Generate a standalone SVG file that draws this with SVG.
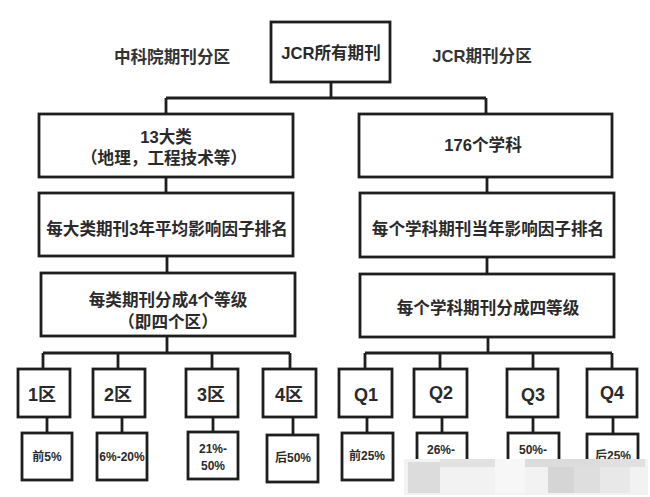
<svg xmlns="http://www.w3.org/2000/svg" width="650" height="497" viewBox="0 0 650 497">
<style>
.b{fill:#fff;stroke:#1e1e1e;stroke-width:2.8}
.c{fill:none;stroke:#1e1e1e;stroke-width:2.8}
text{font-family:"Liberation Sans","Noto Sans CJK SC",sans-serif;font-weight:bold;fill:#2a2a2a;text-anchor:middle;dominant-baseline:central}
.t{font-size:16.6px}
.h{font-size:16.6px;fill:#333}
.q{font-size:18px}
.p{font-size:12px}
</style>
<rect width="650" height="497" fill="#fff"/>
<g id="connectors">
<path class="c" d="M331 82V98M166 98H486M166 98V114M486 98V114"/>
<path class="c" d="M166 177V193M487 177V193M167 256V273M487 257V274"/>
<path class="c" d="M167 336V353M43 353H290M43 353V369M118 353V369M212 353V369M290 353V369"/>
<path class="c" d="M488 337V353M365 353H612M365 353V369M440 353V369M533 353V369M612 353V369"/>
<path class="c" d="M47 417V433M122 417V433M213 417V432M293 417V435"/>
<path class="c" d="M367 417V433M442 417V433M533 417V433M613 417V434"/>
</g>
<text class="h" x="172" y="57">中科院期刊分区</text>
<text class="h" x="482" y="56">JCR期刊分区</text>
<g id="root"><rect class="b" x="271" y="22" width="119" height="60"/><text class="t" x="331" y="53">JCR所有期刊</text></g>
<g id="l1"><rect class="b" x="39" y="114" width="254" height="63"/><text class="t" x="166" y="137">13大类</text><text class="t" x="164" y="158">（地理，工程技术等）</text></g>
<g id="r1"><rect class="b" x="359" y="114" width="253" height="63"/><text class="t" x="483" y="145">176个学科</text></g>
<g id="l2"><rect class="b" x="39" y="193" width="254" height="63"/><text class="t" x="167" y="229">每大类期刊3年平均影响因子排名</text></g>
<g id="r2"><rect class="b" x="360" y="193" width="254" height="64"/><text class="t" x="488" y="229">每个学科期刊当年影响因子排名</text></g>
<g id="l3"><rect class="b" x="41" y="273" width="254" height="63"/><text class="t" x="168" y="300">每类期刊分成4个等级</text><text class="t" x="168" y="322">（即四个区）</text></g>
<g id="r3"><rect class="b" x="360" y="274" width="254" height="63"/><text class="t" x="488" y="308">每个学科期刊分成四等级</text></g>
<g id="z1"><rect class="b" x="18" y="369" width="52" height="48"/><text class="q" x="42" y="395">1区</text></g>
<g id="z2"><rect class="b" x="93" y="369" width="52" height="48"/><text class="q" x="118" y="395">2区</text></g>
<g id="z3"><rect class="b" x="186" y="369" width="52" height="48"/><text class="q" x="211" y="395">3区</text></g>
<g id="z4"><rect class="b" x="263" y="369" width="53" height="48"/><text class="q" x="289" y="395">4区</text></g>
<g id="q1"><rect class="b" x="339" y="369" width="53" height="48"/><text class="q" x="366" y="395">Q1</text></g>
<g id="q2"><rect class="b" x="414" y="369" width="53" height="48"/><text class="q" x="441" y="393">Q2</text></g>
<g id="q3"><rect class="b" x="507" y="369" width="51" height="48"/><text class="q" x="533" y="395">Q3</text></g>
<g id="q4"><rect class="b" x="587" y="369" width="50" height="48"/><text class="q" x="612" y="393">Q4</text></g>
<g id="p1"><rect class="b" x="22" y="433" width="50" height="47"/><text class="p" x="47" y="457">前5%</text></g>
<g id="p2"><rect class="b" x="97" y="433" width="50" height="47"/><text class="p" x="122" y="457">6%-20%</text></g>
<g id="p3"><rect class="b" x="188" y="432" width="50" height="47"/><text class="p" x="213" y="449">21%-</text><text class="p" x="213" y="466">50%</text></g>
<g id="p4"><rect class="b" x="267" y="435" width="51" height="47"/><text class="p" x="293" y="458">后50%</text></g>
<g id="p5"><rect class="b" x="342" y="433" width="51" height="47"/><text class="p" x="367" y="456">前25%</text></g>
<g id="p6"><rect class="b" x="417" y="433" width="50" height="47"/><text class="p" x="441" y="450">26%-</text></g>
<g id="p7"><rect class="b" x="508" y="433" width="51" height="47"/><text class="p" x="533" y="450">50%-</text></g>
<g id="p8"><rect class="b" x="587" y="434" width="51" height="47"/><text class="p" x="613" y="456">后25%</text></g>
<g id="watermark">
<rect x="404" y="459" width="244" height="36" fill="#f2f2f2"/>
<rect x="408" y="462" width="32" height="31" fill="#dcdcdc"/>
<rect x="440" y="459" width="55" height="8" fill="#e2e2e2"/>
<rect x="495" y="459" width="30" height="34" fill="#f7f7f7"/>
<rect x="525" y="459" width="75" height="8" fill="#dcdcdc"/>
<rect x="548" y="467" width="26" height="26" fill="#d5d5d5"/>
<rect x="574" y="467" width="26" height="26" fill="#dedede"/>
<rect x="600" y="459" width="45" height="8" fill="#e0e0e0"/>
<rect x="600" y="467" width="30" height="26" fill="#e8e8e8"/>
</g>
</svg>
